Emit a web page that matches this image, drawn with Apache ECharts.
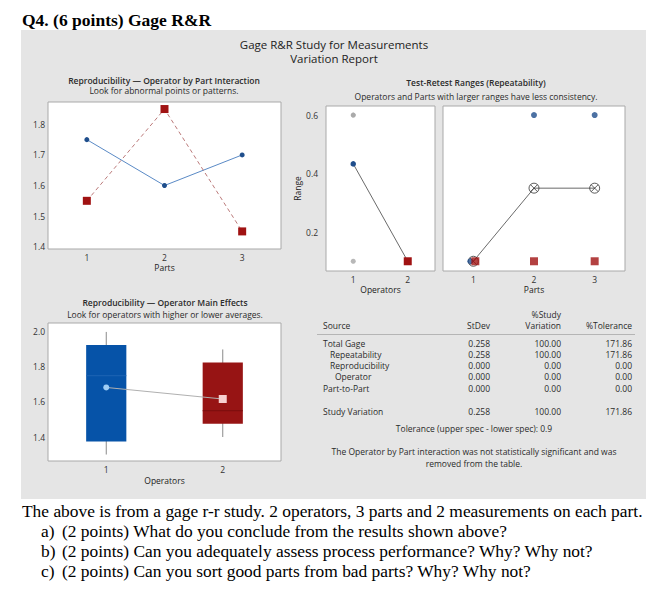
<!DOCTYPE html>
<html>
<head>
<meta charset="utf-8">
<script src="https://cdn.jsdelivr.net/npm/echarts@6/dist/echarts.min.js"></script>
<style>
html,body{margin:0;padding:0;background:#fff;}
#wrap{position:relative;width:668px;height:599px;}
#panel{position:absolute;left:21px;top:30px;width:625px;height:469px;background:#E5E5E5;}
#main{position:absolute;left:0;top:0;width:668px;height:599px;}
</style>
</head>
<body>
<div id="wrap"><div id="panel"></div><div id="main"></div></div>
<script>
// ---------- data ----------
const parts = ['1', '2', '3'];
const operators = ['1', '2'];
// Operator by Part interaction: average measurement per part
const op1PartMeans = [1.75, 1.60, 1.70];
const op2PartMeans = [1.55, 1.85, 1.45];
// Test-retest ranges per part
const op1Ranges = [0.1, 0.6, 0.6];
const op2Ranges = [0.1, 0.1, 0.1];
const operatorAvgRange = [0.433, 0.1];
const partAvgRange = [0.1, 0.35, 0.35];
// Operator main effects box stats [min, Q1, median, Q3, max]
const op1Box = [1.3, 1.375, 1.75, 1.925, 2.0];
const op2Box = [1.4, 1.475, 1.55, 1.825, 1.9];
const operatorMeans = [1.683, 1.617];
// tick labels
const interactionTicks = [1.4, 1.5, 1.6, 1.7, 1.8];
const rangeTicks = [0.2, 0.4, 0.6];
const mainEffectTicks = [1.4, 1.6, 1.8, 2.0];
// table
const tableSources = ['Total Gage', 'Repeatability', 'Reproducibility', 'Operator', 'Part-to-Part'];
const tableStDev = ['0.258', '0.258', '0.000', '0.000', '0.000'];
const tableStudyVar = ['100.00', '100.00', '0.00', '0.00', '0.00'];
const tableTolerance = ['171.86', '171.86', '0.00', '0.00', '0.00'];
const studyVariationRow = ['Study Variation', '0.258', '100.00', '171.86'];

// ---------- styles ----------
const F = '"Open Sans", "Noto Sans", sans-serif';
const SERIF = '"Liberation Serif", "Times New Roman", serif';
const BLUE_DOT = '#1F4E8C', BLUE_LINE = '#5A8AC6';
const RED_SQ = '#A01212', RED_LINE = '#B36B6B';
const GRAY_DOT = '#A6A6A6';
const indent = [0, 7, 7, 12, 0];

const chart = echarts.init(document.getElementById('main'), null, {renderer: 'svg'});

function gridBox(l, t, w, h) {
  return {left: l, top: t, width: w, height: h, show: true, backgroundColor: '#fff',
    borderColor: '#A9A9A9', borderWidth: 1, containLabel: false};
}
function catAxis(idx, data, name, gap) {
  return {type: 'category', gridIndex: idx, data: data, boundaryGap: true,
    axisLine: {show: false}, axisTick: {show: false}, splitLine: {show: false},
    axisLabel: {color: '#333', fontSize: 8.5, fontFamily: F, margin: 4},
    name: name, nameLocation: 'middle', nameGap: gap,
    nameTextStyle: {color: '#222', fontSize: 8.5, fontFamily: F}};
}
function valAxis(idx, min, max, ticks, showLabels, margin) {
  return {type: 'value', gridIndex: idx, min: min, max: max,
    axisLine: {show: false}, axisTick: {show: false}, splitLine: {show: false},
    axisLabel: {show: showLabels, customValues: ticks, color: '#333', fontSize: 8.5,
      fontFamily: F, margin: margin, formatter: v => Number(v).toFixed(1)}};
}

const graphics = [];
function txt(x, y, text, font, align, fill) {
  graphics.push({type: 'text', x: x, y: y, silent: true,
    style: {text: text, font: font, fill: fill || '#2b2b2b', align: align || 'left',
      verticalAlign: 'middle', textAlign: align || 'left', textVerticalAlign: 'middle'}});
}
// headings
txt(22, 20, 'Q4. (6 points) Gage R&R', 'bold 17.5px ' + SERIF, 'left', '#000');
txt(334, 44.5, 'Gage R&R Study for Measurements', '11.5px ' + F, 'center', '#222');
txt(334, 58.5, 'Variation Report', '11.5px ' + F, 'center', '#222');
txt(164, 80, 'Reproducibility — Operator by Part Interaction', '600 8.5px ' + F, 'center');
txt(164, 90.5, 'Look for abnormal points or patterns.', '8.5px ' + F, 'center');
txt(476, 82, 'Test-Retest Ranges (Repeatability)', '600 8.5px ' + F, 'center');
txt(476, 96, 'Operators and Parts with larger ranges have less consistency.', '8.5px ' + F, 'center');
txt(165, 302, 'Reproducibility — Operator Main Effects', '600 8.5px ' + F, 'center');
txt(165, 314, 'Look for operators with higher or lower averages.', '8.5px ' + F, 'center');
// table
const TF = '8.5px ' + F;
txt(323, 325, 'Source', TF);
txt(490, 325, 'StDev', TF, 'right');
txt(561, 314.5, '%Study', TF, 'right');
txt(561, 325, 'Variation', TF, 'right');
txt(632, 325, '%Tolerance', TF, 'right');
graphics.push({type: 'line', silent: true, shape: {x1: 317, y1: 334.5, x2: 635, y2: 334.5},
  style: {stroke: '#B5B5B5', lineWidth: 1}});
tableSources.forEach((s, i) => {
  const y = 343 + i * 11.3;
  txt(323 + indent[i], y, s, TF);
  txt(490, y, tableStDev[i], TF, 'right');
  txt(561, y, tableStudyVar[i], TF, 'right');
  txt(632, y, tableTolerance[i], TF, 'right');
});
txt(323, 411, studyVariationRow[0], TF);
txt(490, 411, studyVariationRow[1], TF, 'right');
txt(561, 411, studyVariationRow[2], TF, 'right');
txt(632, 411, studyVariationRow[3], TF, 'right');
txt(474, 428, 'Tolerance (upper spec - lower spec): 0.9', TF, 'center');
txt(474, 451, 'The Operator by Part interaction was not statistically significant and was', TF, 'center');
txt(474, 463, 'removed from the table.', TF, 'center');
// question text
const QF = '17.4px ' + SERIF;
txt(22, 511, 'The above is from a gage r-r study. 2 operators, 3 parts and 2 measurements on each part.', QF, 'left', '#000');
const qs = [['a)', '(2 points) What do you conclude from the results shown above?'],
  ['b)', '(2 points) Can you adequately assess process performance? Why? Why not?'],
  ['c)', '(2 points) Can you sort good parts from bad parts? Why? Why not?']];
qs.forEach((q, i) => {
  txt(41, 531 + i * 20, q[0], QF, 'left', '#000');
  txt(62, 531 + i * 20, q[1], QF, 'left', '#000');
});

const circleX = 'path://M0,-5A5,5 0 1,1 0,5A5,5 0 1,1 0,-5ZM-3.5,-3.5L3.5,3.5M3.5,-3.5L-3.5,3.5';
const boxFill = ['#0653A8', '#971414'];
const boxMedian = ['#1E64B4', '#7A0E0E'];

// offset coincident markers slightly (as in the reference display)
const blueParts = op1Ranges.map((v, i) => (v === op2Ranges[i] ? {value: [i, v], symbolOffset: [-3, 0]} : [i, v]));
const redParts = op2Ranges.map((v, i) => (v === op1Ranges[i] ? {value: [i, v], symbolOffset: [2, 0]} : [i, v]));

const option = {
  animation: false,
  backgroundColor: 'transparent',
  textStyle: {fontFamily: F},
  grid: [gridBox(48, 102, 233, 147), gridBox(326, 106, 109, 165), gridBox(443, 106, 182, 165), gridBox(48, 323, 233, 138)],
  xAxis: [catAxis(0, parts, 'Parts', 14), catAxis(1, operators, 'Operators', 14),
    catAxis(2, parts, 'Parts', 14), catAxis(3, operators, 'Operators', 15)],
  yAxis: [valAxis(0, 1.3925, 1.873, interactionTicks, true, 3),
    Object.assign(valAxis(1, 0.0667, 0.631, rangeTicks, true, 8), {name: 'Range', nameLocation: 'middle', nameGap: 18,
      nameTextStyle: {color: '#222', fontSize: 8.5, fontFamily: F}}),
    valAxis(2, 0.0667, 0.631, rangeTicks, false, 8),
    valAxis(3, 1.263, 2.051, mainEffectTicks, true, 3)],
  graphic: graphics,
  series: [
    // interaction
    {type: 'line', xAxisIndex: 0, yAxisIndex: 0, data: op1PartMeans, symbol: 'circle', symbolSize: 5,
      lineStyle: {color: BLUE_LINE, width: 1}, itemStyle: {color: BLUE_DOT}, z: 3},
    {type: 'line', xAxisIndex: 0, yAxisIndex: 0, data: op2PartMeans, symbol: 'rect', symbolSize: 8,
      lineStyle: {color: RED_LINE, width: 0.9, type: [4, 3]}, itemStyle: {color: RED_SQ}, z: 3},
    // ranges by operator
    {type: 'scatter', xAxisIndex: 1, yAxisIndex: 1, symbol: 'circle', symbolSize: 5, itemStyle: {color: GRAY_DOT},
      data: op1Ranges.map(v => [0, v]).concat(op2Ranges.map(v => [1, v])), z: 2},
    {type: 'line', xAxisIndex: 1, yAxisIndex: 1, z: 3, lineStyle: {color: '#444', width: 0.8},
      data: operatorAvgRange.map((v, i) => ({value: v, symbol: i === 0 ? 'circle' : 'rect',
        symbolSize: i === 0 ? 5.5 : 8, itemStyle: {color: i === 0 ? BLUE_DOT : RED_SQ}}))},
    // ranges by part
    {type: 'line', xAxisIndex: 2, yAxisIndex: 2, z: 2, data: partAvgRange, symbol: circleX, symbolSize: 10,
      lineStyle: {color: '#444', width: 0.8}, itemStyle: {color: 'rgba(0,0,0,0)', borderColor: '#333', borderWidth: 0.8}},
    {type: 'scatter', xAxisIndex: 2, yAxisIndex: 2, z: 3, symbol: 'circle', symbolSize: 6,
      itemStyle: {color: BLUE_DOT}, data: blueParts},
    {type: 'scatter', xAxisIndex: 2, yAxisIndex: 2, z: 4, symbol: 'rect', symbolSize: 8,
      itemStyle: {color: RED_SQ}, data: redParts},
    // main effects boxes
    {type: 'custom', xAxisIndex: 3, yAxisIndex: 3, z: 2,
      encode: {x: 0, y: [1, 2, 3, 4, 5]},
      data: [[0].concat(op1Box), [1].concat(op2Box)],
      renderItem: function (params, api) {
        const c = api.value(0);
        const pMin = api.coord([c, api.value(1)]);
        const pQ1 = api.coord([c, api.value(2)]);
        const pMed = api.coord([c, api.value(3)]);
        const pQ3 = api.coord([c, api.value(4)]);
        const pMax = api.coord([c, api.value(5)]);
        const w = api.size([1, 0])[0] * 0.345;
        const x = pMin[0];
        return {type: 'group', children: [
          {type: 'line', shape: {x1: x, y1: pMax[1], x2: x, y2: pMin[1]}, style: {stroke: '#8A8A8A', lineWidth: 1}},
          {type: 'rect', shape: {x: x - w / 2, y: pQ3[1], width: w, height: pQ1[1] - pQ3[1]},
            style: {fill: boxFill[c]}},
          {type: 'line', shape: {x1: x - w / 2, y1: pMed[1], x2: x + w / 2, y2: pMed[1]},
            style: {stroke: boxMedian[c], lineWidth: 1}}
        ]};
      }},
    {type: 'line', xAxisIndex: 3, yAxisIndex: 3, z: 4, lineStyle: {color: '#B0B0B0', width: 1},
      data: operatorMeans.map((v, i) => ({value: v, symbol: i === 0 ? 'circle' : 'rect',
        symbolSize: i === 0 ? 6 : 8, itemStyle: {color: i === 0 ? '#9ECDF5' : '#F7D0D0'}}))}
  ]
};
chart.setOption(option);
</script>
</body>
</html>
